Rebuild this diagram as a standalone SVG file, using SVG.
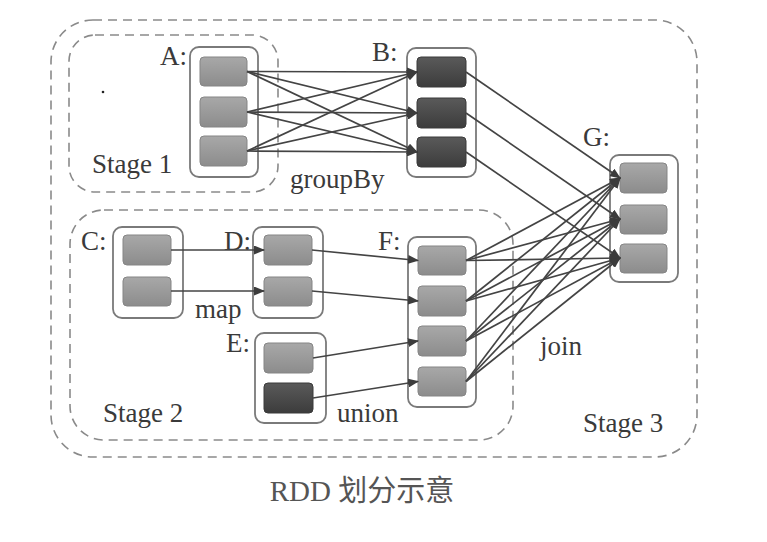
<svg xmlns="http://www.w3.org/2000/svg" width="767" height="542" viewBox="0 0 767 542">
<defs>
<style>
.stage{fill:none;stroke:#8a8a8a;stroke-width:1.6;stroke-dasharray:9,6}
.box{fill:#fff;stroke:#7a7a7a;stroke-width:1.8}
.cell{fill:url(#lg);stroke:#858585;stroke-width:1}
.dark{fill:url(#dg);stroke:#3a3a3a;stroke-width:1}
.lbl{font-family:'Liberation Serif',serif;font-size:27px;fill:#3a3a3a}
.cap{font-family:'Liberation Serif','Noto Sans CJK SC',serif;font-size:29px;fill:#555}
.e{fill:none;stroke:#444;stroke-width:1.7;marker-end:url(#ah)}
</style>
<linearGradient id="lg" x1="0" y1="0" x2="0" y2="1"><stop offset="0" stop-color="#a8a8a8"/><stop offset="1" stop-color="#8c8c8c"/></linearGradient>
<linearGradient id="dg" x1="0" y1="0" x2="0" y2="1"><stop offset="0" stop-color="#5a5a5a"/><stop offset="1" stop-color="#3c3c3c"/></linearGradient>
<marker id="ah" markerWidth="11" markerHeight="9" refX="10" refY="4.5" orient="auto" markerUnits="userSpaceOnUse"><path d="M0,0 L11,4.5 L0,9 Z" fill="#3c3c3c"/></marker>
</defs>
<rect width="767" height="542" fill="#fff"/>
<g id="stages">
<rect class="stage" x="51" y="20" width="646" height="437" rx="42"/>
<rect class="stage" x="69" y="35" width="209" height="157" rx="26"/>
<rect class="stage" x="70" y="210" width="443" height="230" rx="34"/>
</g>
<circle cx="103" cy="92" r="1.3" fill="#222"/>
<g id="A">
<rect class="box" x="190" y="47" width="68" height="130" rx="9"/>
<rect class="cell" x="200" y="57" width="47" height="29" rx="4"/>
<rect class="cell" x="200" y="97" width="47" height="30" rx="4"/>
<rect class="cell" x="200" y="136" width="47" height="30" rx="4"/>
<text class="lbl" x="160" y="65">A:</text>
</g>
<g id="B">
<rect class="box" x="407" y="48" width="69" height="129" rx="9"/>
<rect class="dark" x="417" y="57" width="49" height="30" rx="4"/>
<rect class="dark" x="417" y="98" width="49" height="30" rx="4"/>
<rect class="dark" x="417" y="137" width="49" height="30" rx="4"/>
<text class="lbl" x="372" y="61">B:</text>
</g>
<g id="G">
<rect class="box" x="610" y="155" width="68" height="127" rx="9"/>
<rect class="cell" x="620" y="163" width="47" height="30" rx="4"/>
<rect class="cell" x="620" y="205" width="47" height="29" rx="4"/>
<rect class="cell" x="620" y="244" width="47" height="29" rx="4"/>
<text class="lbl" x="583" y="146">G:</text>
</g>
<g id="C">
<rect class="box" x="113" y="227" width="70" height="91" rx="9"/>
<rect class="cell" x="123" y="235" width="48" height="30" rx="4"/>
<rect class="cell" x="123" y="277" width="48" height="29" rx="4"/>
<text class="lbl" x="81" y="250">C:</text>
</g>
<g id="D">
<rect class="box" x="253" y="227" width="70" height="91" rx="9"/>
<rect class="cell" x="264" y="235" width="48" height="30" rx="4"/>
<rect class="cell" x="264" y="277" width="48" height="29" rx="4"/>
<text class="lbl" x="224" y="250">D:</text>
</g>
<g id="E">
<rect class="box" x="255" y="333" width="71" height="90" rx="9"/>
<rect class="cell" x="264" y="343" width="49" height="30" rx="4"/>
<rect class="dark" x="264" y="383" width="49" height="30" rx="4"/>
<text class="lbl" x="226" y="352">E:</text>
</g>
<g id="F">
<rect class="box" x="408" y="237" width="68" height="170" rx="9"/>
<rect class="cell" x="418" y="246" width="48" height="29" rx="4"/>
<rect class="cell" x="418" y="286" width="48" height="30" rx="4"/>
<rect class="cell" x="418" y="326" width="48" height="30" rx="4"/>
<rect class="cell" x="418" y="367" width="48" height="29" rx="4"/>
<text class="lbl" x="378" y="250">F:</text>
</g>
<g id="connectors">
<line class="e" x1="247" y1="71.5" x2="417" y2="72"/>
<line class="e" x1="247" y1="71.5" x2="417" y2="113"/>
<line class="e" x1="247" y1="71.5" x2="417" y2="152"/>
<line class="e" x1="247" y1="112" x2="417" y2="72"/>
<line class="e" x1="247" y1="112" x2="417" y2="113"/>
<line class="e" x1="247" y1="112" x2="417" y2="152"/>
<line class="e" x1="247" y1="151" x2="417" y2="72"/>
<line class="e" x1="247" y1="151" x2="417" y2="113"/>
<line class="e" x1="247" y1="151" x2="417" y2="152"/>
<line class="e" x1="466" y1="72" x2="620" y2="178"/>
<line class="e" x1="466" y1="113" x2="620" y2="219"/>
<line class="e" x1="466" y1="152" x2="620" y2="258"/>
<line class="e" x1="171" y1="250" x2="264" y2="250"/>
<line class="e" x1="171" y1="291" x2="264" y2="291"/>
<line class="e" x1="312" y1="250" x2="418" y2="260.5"/>
<line class="e" x1="312" y1="291" x2="418" y2="301"/>
<line class="e" x1="313" y1="358" x2="418" y2="341"/>
<line class="e" x1="313" y1="398" x2="418" y2="381.5"/>
<line class="e" x1="466" y1="260.5" x2="620" y2="178"/>
<line class="e" x1="466" y1="260.5" x2="620" y2="219"/>
<line class="e" x1="466" y1="260.5" x2="620" y2="258"/>
<line class="e" x1="466" y1="301" x2="620" y2="178"/>
<line class="e" x1="466" y1="301" x2="620" y2="219"/>
<line class="e" x1="466" y1="301" x2="620" y2="258"/>
<line class="e" x1="466" y1="341" x2="620" y2="178"/>
<line class="e" x1="466" y1="341" x2="620" y2="219"/>
<line class="e" x1="466" y1="341" x2="620" y2="258"/>
<line class="e" x1="466" y1="381.5" x2="620" y2="178"/>
<line class="e" x1="466" y1="381.5" x2="620" y2="219"/>
<line class="e" x1="466" y1="381.5" x2="620" y2="258"/>
</g>
<g id="labels">
<text class="lbl" x="92" y="173">Stage 1</text>
<text class="lbl" x="290" y="188">groupBy</text>
<text class="lbl" x="195" y="318">map</text>
<text class="lbl" x="103" y="422">Stage 2</text>
<text class="lbl" x="337" y="422">union</text>
<text class="lbl" x="540" y="355">join</text>
<text class="lbl" x="583" y="432">Stage 3</text>
<text class="cap" x="362" y="501" text-anchor="middle">RDD 划分示意</text>
</g>
</svg>
